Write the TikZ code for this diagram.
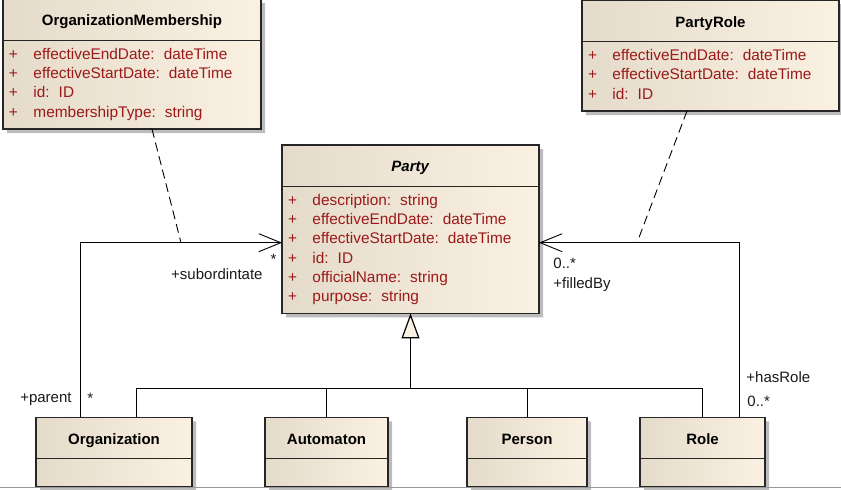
\documentclass[tikz,border=0pt]{standalone}
\usepackage{fontspec}
\setmainfont{Liberation Sans}
\usetikzlibrary{shapes,positioning,arrows.meta,shadows}

\definecolor{umlleft}{RGB}{228,219,203}
\definecolor{umlright}{RGB}{251,241,226}
\definecolor{umlattr}{RGB}{155,25,25}
\definecolor{umlshadow}{RGB}{188,188,188}

\newcommand{\umltitle}[1]{\rule[-8.1pt]{0pt}{29pt}\textbf{#1}}
\newcommand{\umlrow}[2]{+ & #1:\hspace{9pt}#2\\}
\newcommand{\umlempty}{\rule{0pt}{16pt}}
\newenvironment{umlattrs}{\fontsize{15.4pt}{19.2pt}\selectfont\color{umlattr}%
  \begin{tabular}{@{}l@{\hspace{15.5pt}}l@{}}}{\end{tabular}}

\tikzset{
  umlclass/.style={
    rectangle split,
    rectangle split parts=2,
    rectangle split part align={center,left},
    draw=black!85,
    line width=1.1pt,
    left color=umlleft,
    right color=umlright,
    drop shadow={shadow xshift=4pt,shadow yshift=-4pt,fill=umlshadow,opacity=1},
    inner xsep=6pt,
    inner ysep=5.5pt,
    outer sep=0pt},
  assoc/.style={line width=0.9pt,-{Straight Barb[length=22pt,width=18pt]}},
  genline/.style={line width=0.9pt},
  dashline/.style={line width=0.9pt,dash pattern=on 9pt off 5pt},
  lbl/.style={inner sep=0pt,text=black!90}
}

\begin{document}
\begin{tikzpicture}[font=\fontsize{15pt}{19.2pt}\selectfont]

\useasboundingbox (0,0) rectangle (841pt,-490pt);

% Party block
\node[umlclass,
    minimum width=257pt,
    anchor=north west] (party) at (282pt,-145pt)
{\umltitle{\textit{Party}}
 \nodepart{two}
 \begin{umlattrs}
 \umlrow{description}{string}
 \umlrow{effectiveEndDate}{dateTime}
 \umlrow{effectiveStartDate}{dateTime}
 \umlrow{id}{ID}
 \umlrow{officialName}{string}
 \umlrow{purpose}{string}
 \end{umlattrs}};

% Association classes
\node[umlclass,
    above left=16pt and 21pt of party,
    minimum width=258pt] (orgmembership)
{\umltitle{OrganizationMembership}
 \nodepart{two}
 \begin{umlattrs}
 \umlrow{effectiveEndDate}{dateTime}
 \umlrow{effectiveStartDate}{dateTime}
 \umlrow{id}{ID}
 \umlrow{membershipType}{string}
 \end{umlattrs}};

\node[umlclass,
    above right=34pt and 43pt of party,
    minimum width=257pt] (partyrole)
{\umltitle{PartyRole}
 \nodepart{two}
 \begin{umlattrs}
 \umlrow{effectiveEndDate}{dateTime}
 \umlrow{effectiveStartDate}{dateTime}
 \umlrow{id}{ID}
 \end{umlattrs}};

% Subclasses
\node[umlclass,
    below left=104pt and 90pt of party,
    minimum width=156pt] (organization)
{\umltitle{Organization} \nodepart{two} \umlempty};

\node[umlclass,
    right=73pt of organization,
    minimum width=123pt] (automaton)
{\umltitle{Automaton} \nodepart{two} \umlempty};

\node[umlclass,
    right=79pt of automaton,
    minimum width=120pt] (person)
{\umltitle{Person} \nodepart{two} \umlempty};

\node[umlclass,
    right=53pt of person,
    minimum width=125pt] (role)
{\umltitle{Role} \nodepart{two} \umlempty};

% Generalization
\coordinate[below=75pt of party] (genjoin);

\draw[genline] ([xshift=22pt]organization.north) |- (genjoin);
\draw[genline] (automaton.north) |- (genjoin);
\draw[genline] (person.north) |- (genjoin);
\draw[genline] (role.north) |- (genjoin);

\draw[line width=1.6pt,
    -{Triangle[length=25pt,width=18pt,fill=umlright,line width=1.2pt]}]
    (genjoin) -- (party.south);

% Associations
\draw[assoc] ([xshift=-34pt]organization.north)
    |- coordinate[pos=0.75] (subhook) ([yshift=-13.5pt]party.west)
    node[lbl,pos=1,anchor=base east,xshift=-5pt,yshift=-21.4pt] (subcard) {*}
    node[lbl,pos=1,anchor=base east,xshift=-19pt,yshift=-37pt] (subrole) {+subordintate}
    node[lbl,pos=0,anchor=base east,xshift=-8pt,yshift=14.5pt] (parentrole) {+parent}
    node[lbl,pos=0,anchor=base west,xshift=7pt,yshift=14pt] (parentcard) {*};

\draw[assoc] ([xshift=36.5pt]role.north)
    |- coordinate[pos=0.755] (rolehook) ([yshift=-13.5pt]party.east)
    node[lbl,pos=1,anchor=base west,xshift=14pt,yshift=-26pt] (filledcard) {0..*}
    node[lbl,pos=1,anchor=base west,xshift=14pt,yshift=-46pt] (filledrole) {+filledBy}
    node[lbl,pos=0,anchor=base west,xshift=7pt,yshift=35pt] (hasrole) {+hasRole}
    node[lbl,pos=0,anchor=base west,xshift=8pt,yshift=11pt] (hascard) {0..*};

\draw[dashline] ([xshift=20pt]orgmembership.south) -- (subhook);
\draw[dashline] ([xshift=-23.5pt]partyrole.south) -- (rolehook);

% bottom edge
\draw[black!40,line width=1pt] (0,-487pt) -- (841pt,-487pt);

\end{tikzpicture}
\end{document}
